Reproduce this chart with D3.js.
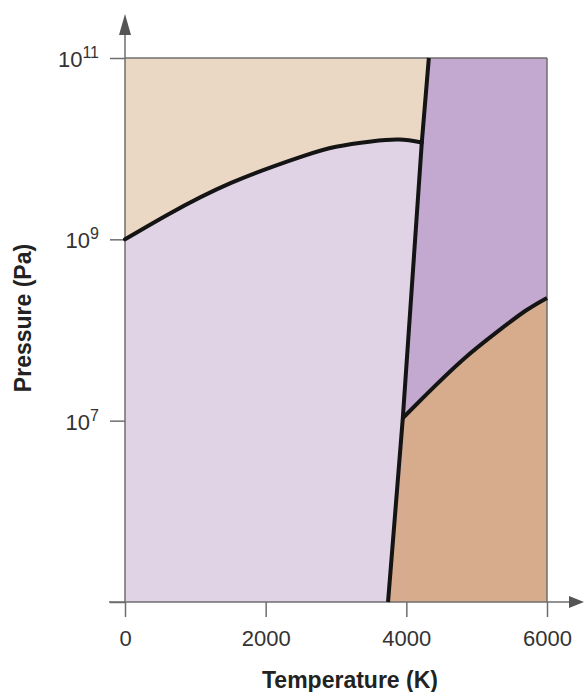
<!DOCTYPE html>
<html>
<head>
<meta charset="utf-8">
<script src="https://cdn.jsdelivr.net/npm/d3@7"></script>
<style>
  html, body { margin: 0; padding: 0; background: #ffffff; }
  svg { display: block; }
  text { font-family: "Liberation Sans", Arial, Helvetica, sans-serif; }
</style>
</head>
<body>
<svg id="chart" width="584" height="692"></svg>
<script>
// ---- data ----
const xTicks = [0, 2000, 4000, 6000];
const yTickExponents = [7, 9, 11];

// graphite / diamond boundary
const gdTemp = [0, 600, 1500, 2500, 3000, 3500, 3900, 4220];
const gdPres = [1e9, 1.86e9, 4.17e9, 8.13e9, 1.05e10, 1.2e10, 1.26e10, 1.17e10];

// melting line (solid / liquid), from bottom to top
const meltTemp = [3740, 3950, 4220, 4320];
const meltPres = [1e5, 1.07e7, 1.17e10, 1e11];

// liquid / vapor boundary
const lvTemp = [3950, 4300, 4800, 5300, 5700, 6000];
const lvPres = [1.07e7, 2.0e7, 4.68e7, 9.66e7, 1.64e8, 2.26e8];

const regionColors = {
  graphite: "#e0d3e6",
  diamond: "#ebd8c4",
  liquid: "#c3a9cf",
  vapor: "#d7ac8d"
};

// ---- scales ----
const svg = d3.select("#chart");
const x = d3.scaleLinear().domain([0, 6000]).range([125, 547]);
const y = d3.scaleLog().domain([1e5, 1e11]).range([602, 58]);
const axisColor = "#6e6e6e";

const zip = (a, b) => a.map((v, i) => [v, b[i]]);
const gd = zip(gdTemp, gdPres);
const melt = zip(meltTemp, meltPres);
const lv = zip(lvTemp, lvPres);

const tMin = x.domain()[0], tMax = x.domain()[1];
const pMin = y.domain()[0], pMax = y.domain()[1];

const poly = pts => "M" + pts.map(p => x(p[0]) + "," + y(p[1])).join("L") + "Z";
const smooth = d3.curveNatural;

const plot = svg.append("g");

// graphite (background of plot)
plot.append("path")
  .attr("d", poly([[tMin, pMin], [tMax, pMin], [tMax, pMax], [tMin, pMax]]))
  .attr("fill", regionColors.graphite);

// diamond: above graphite/diamond curve
plot.append("path")
  .attr("d", d3.area().x(d => x(d[0])).y0(y(pMax)).y1(d => y(d[1])).curve(smooth)(gd))
  .attr("fill", regionColors.diamond);
plot.append("path")
  .attr("d", poly([[gdTemp[gdTemp.length - 1], pMax], [meltTemp[meltTemp.length - 1] + 100, pMax],
                   [meltTemp[meltTemp.length - 1] + 100, gdPres[gdPres.length - 1]], [gdTemp[gdTemp.length - 1], gdPres[gdPres.length - 1]]]))
  .attr("fill", regionColors.diamond);

// liquid: everything right of the melting line
plot.append("path")
  .attr("d", poly(melt.concat([[tMax, pMax], [tMax, pMin]])))
  .attr("fill", regionColors.liquid);

// vapor: below the liquid/vapor curve, right of the melting line
plot.append("path")
  .attr("d", d3.area().x(d => x(d[0])).y0(y(pMin)).y1(d => y(d[1])).curve(smooth)(lv))
  .attr("fill", regionColors.vapor);
plot.append("path")
  .attr("d", poly([melt[0], melt[1], [meltTemp[1], pMin]]))
  .attr("fill", regionColors.vapor);

// ---- axes ----
const xAxis = svg.append("g")
  .attr("transform", `translate(0,${y(pMin)})`)
  .call(d3.axisBottom(x).tickValues(xTicks).tickFormat(d3.format("d"))
    .tickSize(15).tickPadding(13).tickSizeOuter(0));
xAxis.select(".domain").remove();
xAxis.selectAll(".tick line").attr("stroke", axisColor).attr("stroke-width", 1.5);
xAxis.selectAll(".tick text")
  .attr("font-size", 22).attr("fill", "#333").attr("font-family", "Liberation Sans, Arial, sans-serif");

const yAxis = svg.append("g")
  .attr("transform", `translate(${x(tMin)},0)`)
  .call(d3.axisLeft(y).tickValues([1e5].concat(yTickExponents.map(e => Math.pow(10, e))))
    .tickSize(15).tickFormat("").tickSizeOuter(0));
yAxis.select(".domain").remove();
yAxis.selectAll(".tick line").attr("stroke", axisColor).attr("stroke-width", 1.5);

// y tick labels with superscripts
yTickExponents.forEach(e => {
  const t = svg.append("text")
    .attr("x", 99)
    .attr("y", y(Math.pow(10, e)) + 9)
    .attr("text-anchor", "end")
    .attr("fill", "#333")
    .attr("font-size", 22);
  t.append("tspan").text("10");
  t.append("tspan").attr("font-size", 16).attr("dy", -9).text(String(e));
});

// axis lines
svg.append("line")
  .attr("x1", x(tMin) - 16).attr("x2", 572)
  .attr("y1", y(pMin)).attr("y2", y(pMin))
  .attr("stroke", axisColor).attr("stroke-width", 1.5);
svg.append("line")
  .attr("x1", x(tMin)).attr("x2", x(tMin))
  .attr("y1", y(pMin)).attr("y2", 30)
  .attr("stroke", axisColor).attr("stroke-width", 1.5);
// frame (top and right)
svg.append("line")
  .attr("x1", x(tMin)).attr("x2", x(tMax))
  .attr("y1", y(pMax)).attr("y2", y(pMax))
  .attr("stroke", axisColor).attr("stroke-width", 1.5);
svg.append("line")
  .attr("x1", x(tMax)).attr("x2", x(tMax))
  .attr("y1", y(pMax)).attr("y2", y(pMin))
  .attr("stroke", axisColor).attr("stroke-width", 1.5);

// arrow heads
svg.append("path")
  .attr("d", `M${x(tMin)},14 L${x(tMin) - 6},35 L${x(tMin) + 6},35 Z`)
  .attr("fill", "#555");
svg.append("path")
  .attr("d", `M584,${y(pMin)} L569,${y(pMin) - 6} L569,${y(pMin) + 6} Z`)
  .attr("fill", "#555");

// ---- boundary curves ----
const lineStyle = sel => sel.attr("fill", "none").attr("stroke", "#141414")
  .attr("stroke-width", 4).attr("stroke-linecap", "round").attr("stroke-linejoin", "round");

svg.append("path")
  .attr("d", d3.line().x(d => x(d[0])).y(d => y(d[1])).curve(smooth)(gd))
  .call(lineStyle);
svg.append("path")
  .attr("d", d3.line().x(d => x(d[0])).y(d => y(d[1]))(melt))
  .call(lineStyle).attr("stroke-linecap", "butt");
svg.append("path")
  .attr("d", d3.line().x(d => x(d[0])).y(d => y(d[1])).curve(smooth)(lv))
  .call(lineStyle).attr("stroke-linecap", "butt");

// ---- axis titles ----
svg.append("text")
  .attr("x", 350).attr("y", 688)
  .attr("text-anchor", "middle")
  .attr("font-size", 23).attr("font-weight", "bold").attr("fill", "#222")
  .text("Temperature (K)");
svg.append("text")
  .attr("transform", "translate(31,318) rotate(-90)")
  .attr("text-anchor", "middle")
  .attr("font-size", 23).attr("font-weight", "bold").attr("fill", "#222")
  .text("Pressure (Pa)");
</script>
</body>
</html>
